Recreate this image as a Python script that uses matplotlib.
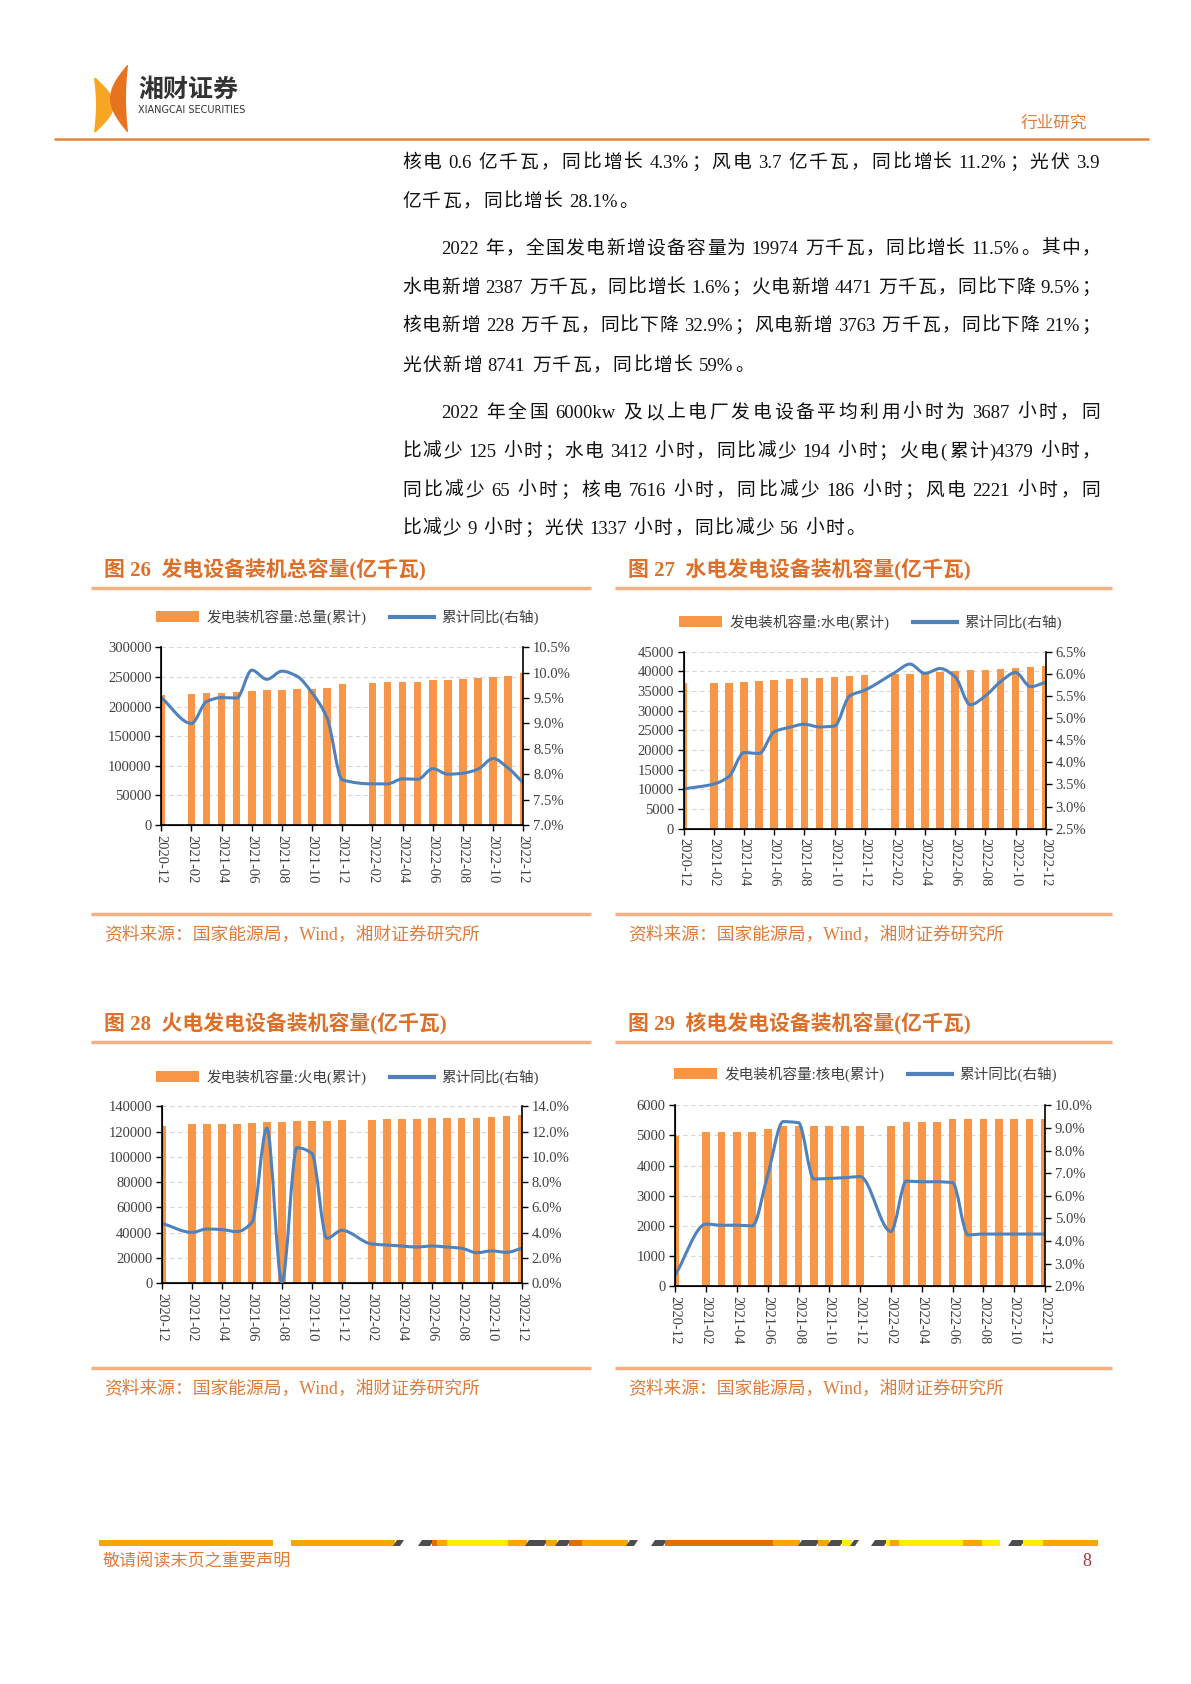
import re
import matplotlib
matplotlib.use("Agg")
import matplotlib.pyplot as plt
import numpy as np
import pandas as pd
from matplotlib.path import Path
from matplotlib.patches import PathPatch, Polygon
from matplotlib.lines import Line2D
from matplotlib.ticker import FuncFormatter
from matplotlib import font_manager

#%% données
months = ["2020-12",
          "2021-02", "2021-03", "2021-04", "2021-05", "2021-06", "2021-07",
          "2021-08", "2021-09", "2021-10", "2021-11", "2021-12",
          "2022-02", "2022-03", "2022-04", "2022-05", "2022-06", "2022-07",
          "2022-08", "2022-09", "2022-10", "2022-11", "2022-12"]
xtick_labels = ["2020-12", "2021-02", "2021-04", "2021-06", "2021-08", "2021-10",
                "2021-12", "2022-02", "2022-04", "2022-06", "2022-08", "2022-10",
                "2022-12"]

total_cap = [219500, 221700, 223500, 223000, 224500, 226000, 228000, 228000,
             229000, 230000, 232000, 238000, 239500, 241000, 242000, 242000,
             244000, 245000, 246500, 248500, 250000, 251000, 256600]
total_yoy = [9.51, 9.00, 9.43, 9.51, 9.50, 10.05, 9.87, 10.03, 9.93, 9.60, 9.10,
             7.89, 7.81, 7.81, 7.91, 7.90, 8.11, 8.00, 8.02, 8.10, 8.31, 8.12, 7.83]

hydro_cap = [36950, 37000, 37100, 37300, 37460, 37800, 38100, 38200, 38400,
             38560, 38800, 39070, 39240, 39400, 39580, 39830, 40080, 40250,
             40300, 40590, 40760, 41000, 41270]
hydro_yoy = [3.40, 3.51, 3.68, 4.22, 4.20, 4.69, 4.79, 4.86, 4.80, 4.82, 5.50,
             5.63, 6.03, 6.22, 6.01, 6.12, 5.93, 5.30, 5.50, 5.82, 6.03, 5.71, 5.81]

thermal_cap = [124700, 125700, 126250, 126250, 126250, 126800, 127300, 127300,
               128400, 128400, 128400, 129400, 129400, 130000, 130000, 130000,
               130500, 131000, 131000, 131000, 131500, 132300, 133100]
thermal_yoy = [4.73, 4.01, 4.28, 4.23, 4.07, 4.81, 12.26, 0.05, 10.72, 10.27,
               3.54, 4.17, 3.09, 3.01, 2.93, 2.85, 2.93, 2.85, 2.75, 2.40, 2.54,
               2.43, 2.75]

nuclear_cap = [4990, 5100, 5100, 5100, 5100, 5230, 5320, 5320, 5320, 5320, 5320,
               5320, 5320, 5430, 5430, 5430, 5550, 5550, 5550, 5550, 5550, 5550,
               5550]
nuclear_yoy = [2.50, 4.75, 4.70, 4.70, 4.67, 6.92, 9.28, 9.23, 6.74, 6.77, 6.80,
               6.85, 4.42, 6.65, 6.62, 6.62, 6.58, 4.27, 4.31, 4.31, 4.31, 4.31,
               4.31]

body_lines = [
    "核电 0.6 亿千瓦，同比增长 4.3%；风电 3.7 亿千瓦，同比增长 11.2%；光伏 3.9",
    "亿千瓦，同比增长 28.1%。",
    "2022 年，全国发电新增设备容量为 19974 万千瓦，同比增长 11.5%。其中，",
    "水电新增 2387 万千瓦，同比增长 1.6%；火电新增 4471 万千瓦，同比下降 9.5%；",
    "核电新增 228 万千瓦，同比下降 32.9%；风电新增 3763 万千瓦，同比下降 21%；",
    "光伏新增 8741 万千瓦，同比增长 59%。",
    "2022 年全国 6000kw 及以上电厂发电设备平均利用小时为 3687 小时，同",
    "比减少 125 小时；水电 3412 小时，同比减少 194 小时；火电(累计)4379 小时，",
    "同比减少 65 小时；核电 7616 小时，同比减少 186 小时；风电 2221 小时，同",
    "比减少 9 小时；光伏 1337 小时，同比减少 56 小时。",
]
# (retrait, justifié)
body_fmt = [(False, True), (False, False), (True, True), (False, True),
            (False, True), (False, False), (True, True), (False, True),
            (False, True), (False, False)]
body_y = [161, 200, 247, 286, 324, 364, 411, 450, 489, 527]

line_label = "累计同比(右轴)"
source_text = "资料来源：国家能源局，Wind，湘财证券研究所"

#%% style
W, H = 1191, 1684
BODY = ["Liberation Serif", "Noto Sans CJK SC"]
CJKF = ["Noto Sans CJK SC"]
plt.rcParams["font.family"] = BODY
names = {f.name for f in font_manager.fontManager.ttflist}
NARROW = "Liberation Sans Narrow" if "Liberation Sans Narrow" in names else "DejaVu Sans"

BAR = "#F79646"
LINE = "#4F81BD"
ORANGE_TXT = "#DD6F28"
RULE = "#F5B183"
TXT = "#404040"

fig = plt.figure(figsize=(W / 100, H / 100), dpi=100)
bg = fig.add_axes([0, 0, 1, 1])
bg.set_xlim(0, W)
bg.set_ylim(H, 0)
bg.axis("off")
renderer = fig.canvas.get_renderer()

#%% en-tête
t = np.linspace(0, 1, 40)
# logo : deux croissants
left_outer = np.column_stack([94 + 2 * np.sin(np.pi * t), 78 + 54 * t])
left_inner = np.column_stack([96 + 18 * np.sin(np.pi * t), 78 + 54 * t])[::-1]
bg.add_patch(Polygon(np.vstack([left_outer, left_inner]), closed=True,
                     color="#F6A623", lw=0))
right_outer = np.column_stack([128 - 2 * np.sin(np.pi * t), 65 + 67 * t])
right_inner = np.column_stack([127 - 17 * np.sin(np.pi * t), 65 + 67 * t])[::-1]
bg.add_patch(Polygon(np.vstack([right_outer, right_inner]), closed=True,
                     color="#E8731E", lw=0))
bg.text(138, 90, "湘财证券", fontsize=18, family=CJKF, weight="bold",
        color="#333333", va="center", ha="left")
bg.text(138, 110, "XIANGCAI SECURITIES", fontsize=7.0, family=NARROW,
        color="#333333", va="center", ha="left")
bg.text(1021, 123, "行业研究", fontsize=12, family=CJKF, color="#E07B39",
        va="center", ha="left")
bg.plot([54, 1149], [139, 139], color="#E8823C", lw=1.8, solid_capstyle="butt")

#%% texte justifié
FS = 13.5
EM = FS * 100 / 72
CJK = re.compile(r"[\u3000-\u303f\u4e00-\u9fff\uff00-\uffef]")


def put_line(s, x0, x1, y, justify):
    toks = re.findall(r"[A-Za-z0-9.%()]+| |.", s)
    arts, widths = [], []
    for tok in toks:
        if tok == " ":
            arts.append(None)
            widths.append(EM * 0.25)
            continue
        a = bg.text(0, y, tok, fontsize=FS, color="#111111", va="baseline", ha="left")
        arts.append(a)
        if CJK.match(tok):
            widths.append(EM)
        else:
            widths.append(a.get_window_extent(renderer).width + 0.5)
    # pas d'espacement ajouté après un blanc
    n_gaps = sum(1 for tok in toks[:-1] if tok != " ")
    gap = (x1 - x0 - sum(widths)) / n_gaps if justify else 1.5
    x = x0
    for tok, a, w in zip(toks, arts, widths):
        if a is not None:
            a.set_x(x)
        x += w + (0 if tok == " " else gap)


for s, (indent, just), y in zip(body_lines, body_fmt, body_y):
    put_line(s, 441 if indent else 402, 1100, y + 7, just)

#%% graphiques
pos = np.array([(pd.Period(m, "M") - pd.Period("2020-12", "M")).n for m in months])


def smooth_path(x, y):
    # courbe lissée sans dépassement (tangentes monotones)
    x = np.asarray(x, float)
    y = np.asarray(y, float)
    h = np.diff(x)
    d = np.diff(y) / h
    n = len(x)
    m = np.zeros(n)
    m[0], m[-1] = d[0], d[-1]
    for i in range(1, n - 1):
        if d[i - 1] * d[i] > 0:
            w1, w2 = 2 * h[i] + h[i - 1], h[i] + 2 * h[i - 1]
            m[i] = (w1 + w2) / (w1 / d[i - 1] + w2 / d[i])
    verts, codes = [(x[0], y[0])], [Path.MOVETO]
    for i in range(n - 1):
        verts += [(x[i] + h[i] / 3, y[i] + m[i] * h[i] / 3),
                  (x[i + 1] - h[i] / 3, y[i + 1] - m[i + 1] * h[i] / 3),
                  (x[i + 1], y[i + 1])]
        codes += [Path.CURVE4] * 3
    return Path(verts, codes)


charts = [
    dict(cap=total_cap, yoy=total_yoy, box=(161.3, 647.3, 523.3, 825),
         ymax=300000, ystep=50000, r=(7.0, 10.5, 0.5), leg=(347, 617),
         label="发电装机容量:总量(累计)", title="图 26  发电设备装机总容量(亿千瓦)",
         txy=(104, 570)),
    dict(cap=hydro_cap, yoy=hydro_yoy, box=(683.7, 651.7, 1045.7, 828.7),
         ymax=45000, ystep=5000, r=(2.5, 6.5, 0.5), leg=(870, 622),
         label="发电装机容量:水电(累计)", title="图 27  水电发电设备装机容量(亿千瓦)",
         txy=(628, 570)),
    dict(cap=thermal_cap, yoy=thermal_yoy, box=(162, 1106.3, 521.7, 1283),
         ymax=140000, ystep=20000, r=(0.0, 14.0, 2.0), leg=(347, 1077),
         label="发电装机容量:火电(累计)", title="图 28  火电发电设备装机容量(亿千瓦)",
         txy=(104, 1024.5)),
    dict(cap=nuclear_cap, yoy=nuclear_yoy, box=(675.3, 1105.3, 1045, 1286.3),
         ymax=6000, ystep=1000, r=(2.0, 10.0, 1.0), leg=(865, 1074),
         label="发电装机容量:核电(累计)", title="图 29  核电发电设备装机容量(亿千瓦)",
         txy=(628, 1024.5)),
]

for c in charts:
    x0, y0, x1, y1 = c["box"]
    ax = fig.add_axes([x0 / W, 1 - y1 / H, (x1 - x0) / W, (y1 - y0) / H])
    bars = ax.bar(pos, c["cap"], width=0.5, color=BAR, zorder=2)
    ax.set_xlim(0, 24)
    ax.set_ylim(0, c["ymax"])
    ax.set_yticks(np.arange(0, c["ymax"] + 1, c["ystep"]))
    ax.yaxis.set_major_formatter(FuncFormatter(lambda v, p: f"{int(v)}"))
    ax.set_xticks(np.arange(0, 25, 2))
    ax.set_xticklabels(xtick_labels, rotation=-90, va="top", ha="center")
    ax.yaxis.grid(True, ls=(0, (4, 3)), color="#DDD5D5", lw=0.8)
    ax.set_axisbelow(True)
    ax.tick_params(direction="out", length=4, width=1, labelsize=10.5,
                   labelcolor=TXT, pad=3)
    ax.spines["top"].set_visible(False)
    ax.spines["right"].set_visible(False)
    for s in ("left", "bottom"):
        ax.spines[s].set_linewidth(1.2)

    ax2 = ax.twinx()
    lo, hi, st = c["r"]
    ax2.set_ylim(lo, hi)
    ax2.set_yticks(np.arange(lo, hi + 1e-9, st))
    ax2.yaxis.set_major_formatter(FuncFormatter(lambda v, p: f"{v:.1f}%"))
    ax2.tick_params(direction="out", length=4, width=1, labelsize=10.5,
                    labelcolor=TXT, pad=3)
    ax2.spines["top"].set_visible(False)
    ax2.spines["right"].set_linewidth(1.2)
    ax2.add_patch(PathPatch(smooth_path(pos, c["yoy"]), fill=False,
                            edgecolor=LINE, lw=2.2, capstyle="round"))

    fig.legend([bars, Line2D([], [], color=LINE, lw=3)], [c["label"], line_label],
               loc="center", bbox_to_anchor=(c["leg"][0] / W, 1 - c["leg"][1] / H),
               ncol=2, frameon=False, fontsize=10.5, handlelength=3.0,
               handleheight=0.7, handletextpad=0.5, columnspacing=1.6,
               labelcolor=TXT)

    bg.text(c["txy"][0], c["txy"][1], c["title"], fontsize=15, weight="bold",
            color=ORANGE_TXT, va="center", ha="left")

# filets et sources
for (xa, xb) in [(91, 591), (615, 1112)]:
    for yy in (588, 914, 1042, 1368):
        bg.plot([xa, xb], [yy, yy], color=RULE, lw=2.5, solid_capstyle="butt")
for (xx, yy) in [(104, 935.5), (628, 935.5), (104, 1389.5), (628, 1389.5)]:
    bg.text(xx, yy, source_text, fontsize=12.8, color="#E07B39",
            va="center", ha="left")

#%% pied de page
OR, GR, DO, YE = "#F7A800", "#4D4D4D", "#E06E00", "#FFEE00"
stripe = [(99, 273, OR), (291, 395, OR), (395, 402, GR), (420, 432, GR),
          (432, 437, DO), (437, 447, OR), (447, 508, YE), (508, 527, OR),
          (527, 546, GR), (546, 557, OR), (557, 569, GR), (569, 582, DO),
          (582, 628, OR), (628, 636, GR), (653, 665, GR), (665, 773, DO),
          (773, 800, OR), (800, 818, GR), (818, 829, OR), (829, 842, GR),
          (842, 852, YE), (852, 857, GR), (873, 886, GR), (886, 890, YE),
          (890, 899, OR), (899, 963, YE), (963, 982, OR), (982, 1000, YE),
          (1010, 1023, GR), (1023, 1043, YE), (1043, 1098, OR)]
for xa, xb, col in stripe:
    sk = 2 if col == GR else 0
    bg.add_patch(Polygon([(xa + sk, 1540), (xb + sk, 1540), (xb - sk, 1546),
                          (xa - sk, 1546)], closed=True, color=col, lw=0))
bg.text(103, 1561, "敬请阅读末页之重要声明", fontsize=12.3, family=CJKF,
        color="#E07B39", va="center", ha="left")
bg.text(1087, 1562, "8", fontsize=13, color="#A6373A", va="center", ha="center")

fig.savefig("out.png", dpi=100)
